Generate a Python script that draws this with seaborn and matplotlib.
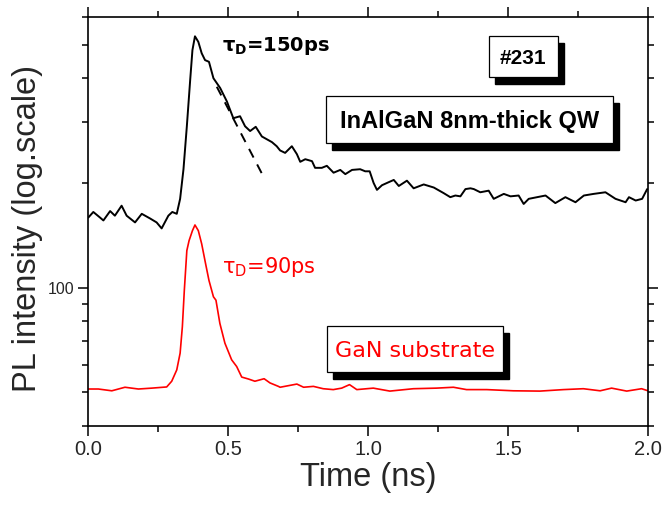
import matplotlib
matplotlib.use("Agg")
import matplotlib.pyplot as plt
from matplotlib.patches import Rectangle
from matplotlib.ticker import FixedLocator, FixedFormatter, NullFormatter
import pandas as pd
import seaborn as sns

# InAlGaN 8nm QW transient (black), time in ns, PL in counts (log axis)
t_qw = [0.001, 0.019, 0.043, 0.055, 0.079, 0.096, 0.12, 0.138, 0.168, 0.192,
        0.222, 0.245, 0.263, 0.287, 0.301, 0.317, 0.329, 0.341, 0.353, 0.365,
        0.373, 0.382, 0.394, 0.406, 0.418, 0.432, 0.448, 0.472, 0.496, 0.519,
        0.543, 0.561, 0.579, 0.599, 0.621, 0.657, 0.674, 0.686, 0.704, 0.728,
        0.746, 0.758, 0.776, 0.8, 0.811, 0.835, 0.853, 0.877, 0.901, 0.919,
        0.943, 0.972, 0.99, 1.006, 1.02, 1.032, 1.05, 1.074, 1.092, 1.11,
        1.139, 1.163, 1.199, 1.235, 1.27, 1.294, 1.312, 1.33, 1.348, 1.366,
        1.378, 1.401, 1.431, 1.449, 1.485, 1.509, 1.538, 1.556, 1.574, 1.604,
        1.634, 1.669, 1.705, 1.741, 1.771, 1.806, 1.848, 1.884, 1.92, 1.932,
        1.956, 1.979, 1.997]
pl_qw = [159, 165, 159, 156, 166, 161, 172, 161, 154, 163,
         158, 154, 148, 161, 165, 163, 180, 219, 291, 396,
         482, 528, 509, 472, 451, 446, 400, 375, 343, 307,
         311, 291, 282, 290, 272, 262, 255, 248, 244, 255,
         242, 230, 234, 231, 221, 221, 224, 214, 218, 212,
         218, 219, 216, 216, 200, 191, 197, 201, 204, 196,
         203, 193, 198, 194, 187, 182, 184, 183, 192, 193,
         192, 188, 190, 180, 186, 183, 184, 174, 180, 182,
         184, 175, 182, 176, 184, 186, 188, 180, 176, 182,
         178, 180, 192]

# GaN substrate transient (red)
t_gan = [0.001, 0.037, 0.085, 0.132, 0.18, 0.228, 0.281, 0.299, 0.317, 0.329,
         0.337, 0.344, 0.353, 0.361, 0.373, 0.382, 0.394, 0.406, 0.42, 0.432,
         0.448, 0.457, 0.471, 0.489, 0.513, 0.531, 0.549, 0.573, 0.596, 0.629,
         0.65, 0.68, 0.686, 0.746, 0.77, 0.805, 0.84, 0.876, 0.906, 0.934,
         0.96, 1.019, 1.078, 1.162, 1.245, 1.305, 1.352, 1.424, 1.519, 1.614,
         1.698, 1.769, 1.829, 1.87, 1.924, 1.977, 2.0]
pl_gan = [51.1, 51.1, 50.5, 51.7, 51.1, 51.4, 51.8, 53.8, 58.0, 64.8,
          77.2, 98.2, 127.8, 136.5, 145.8, 151.4, 145.8, 133.6, 117.1, 104.9,
          94.1, 92.0, 78.9, 69.2, 62.0, 59.3, 55.3, 54.6, 53.8, 54.7,
          53.2, 52.0, 51.7, 52.8, 51.7, 52.0, 51.2, 50.9, 51.4, 52.6,
          50.9, 51.4, 50.4, 51.2, 51.4, 51.7, 50.9, 50.9, 50.5, 50.4,
          50.9, 51.2, 50.5, 51.4, 50.4, 51.2, 50.5]

# exponential decay fit drawn dashed
t_fit = [0.46, 0.622]
pl_fit = [378, 212]

x_major = [0.0, 0.5, 1.0, 1.5, 2.0]
x_labels = ["0.0", "0.5", "1.0", "1.5", "2.0"]
x_minor = [0.25, 0.75, 1.25, 1.75]
y_major = [100]
y_labels = ["100"]
y_minor = [40, 50, 60, 70, 80, 90, 200, 300, 400, 500, 600]

sns.set_style("ticks")
plt.rcParams["font.family"] = ["Liberation Sans", "DejaVu Sans"]
plt.rcParams["mathtext.default"] = "regular"

fig = plt.figure(figsize=(6.63, 5.13), dpi=100)
ax = fig.add_axes([88 / 663, 1 - 426 / 513, 560 / 663, 409 / 513])
ax.set_yscale("log")

qw = pd.DataFrame({"t": t_qw, "pl": pl_qw})
gan = pd.DataFrame({"t": t_gan, "pl": pl_gan})
fit = pd.DataFrame({"t": t_fit, "pl": pl_fit})
sns.lineplot(data=qw, x="t", y="pl", color="black", lw=1.4, ax=ax)
sns.lineplot(data=gan, x="t", y="pl", color="red", lw=1.2, ax=ax)
sns.lineplot(data=fit, x="t", y="pl", color="black", lw=1.4,
             linestyle=(0, (5, 4)), ax=ax)

ax.set_xlim(0, 2)
ax.set_ylim(40, 600)
ax.xaxis.set_major_locator(FixedLocator(x_major))
ax.xaxis.set_major_formatter(FixedFormatter(x_labels))
ax.xaxis.set_minor_locator(FixedLocator(x_minor))
ax.yaxis.set_major_locator(FixedLocator(y_major))
ax.yaxis.set_major_formatter(FixedFormatter(y_labels))
ax.yaxis.set_minor_locator(FixedLocator(y_minor))
ax.yaxis.set_minor_formatter(NullFormatter())

ax.tick_params(which="both", direction="out", top=True, right=True, width=1.1, color="black")
ax.tick_params(which="major", length=7)
ax.tick_params(which="minor", length=4)
ax.tick_params(axis="x", labelsize=14.5, pad=3)
ax.tick_params(axis="y", labelsize=11.5, pad=3)
for s in ax.spines.values():
    s.set_linewidth(1.2)
    s.set_color("black")

ax.set_xlabel("Time (ns)", fontsize=23.5)
ax.set_ylabel("PL intensity (log.scale)", fontsize=23.5)
ax.xaxis.set_label_coords(0.5, -0.088)
ax.yaxis.set_label_coords(-0.080, 0.484)

# boxed labels with solid drop shadow (axes fractions)
boxes = [
    ("#231", 0.716, 0.839, 0.853, 0.954, "black", "bold", 15, "Liberation Sans"),
    ("InAlGaN 8nm-thick QW", 0.425, 0.9375, 0.692, 0.807, "black", "bold", 17, "Liberation Sans"),
    ("GaN substrate", 0.427, 0.741, 0.132, 0.2445, "red", "normal", 16, "DejaVu Sans"),
]
dx, dy = 6 / 560, -7 / 409
for txt, x0, x1, y0, y1, col, wt, fs, fam in boxes:
    ax.add_patch(Rectangle((x0 + dx, y0 + dy), x1 - x0, y1 - y0, transform=ax.transAxes,
                           facecolor="black", edgecolor="black", zorder=5))
    ax.add_patch(Rectangle((x0, y0), x1 - x0, y1 - y0, transform=ax.transAxes,
                           facecolor="white", edgecolor="black", lw=0.9, zorder=6))
    ax.text((x0 + x1) / 2, (y0 + y1) / 2, txt, transform=ax.transAxes, color=col,
            fontweight=wt, fontsize=fs, family=[fam, "DejaVu Sans"],
            ha="center", va="center_baseline", zorder=7)

ax.text(0.239, 0.917, "τ$_\\mathbf{D}$=150ps", transform=ax.transAxes, fontsize=14,
        fontweight="bold", family=["DejaVu Sans"], color="black", va="baseline")
ax.text(0.239, 0.374, "τ$_D$=90ps", transform=ax.transAxes, fontsize=15,
        family=["DejaVu Sans"], color="red", va="baseline")

fig.savefig("out.png", dpi=100)
